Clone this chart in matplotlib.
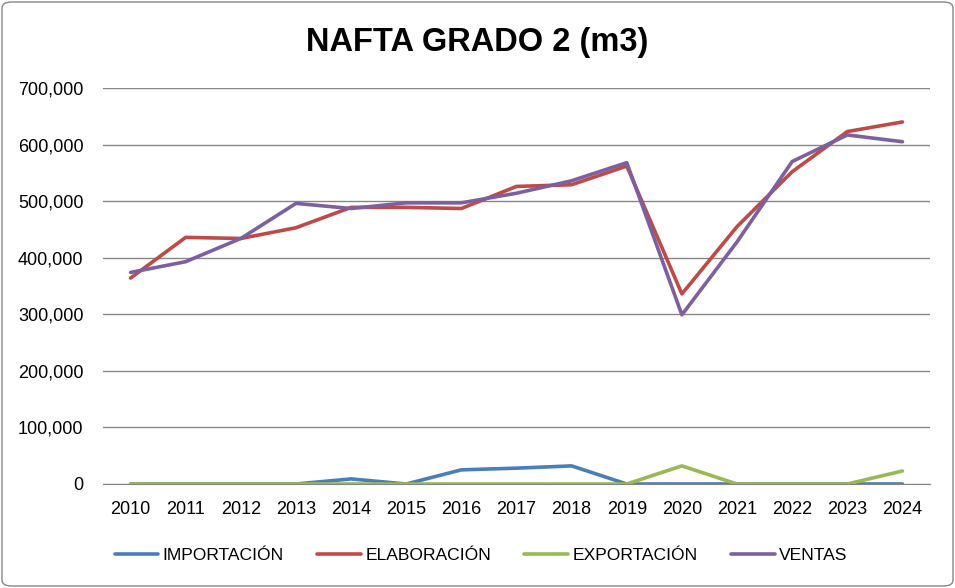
import matplotlib
matplotlib.use("Agg")
import matplotlib.pyplot as plt
from matplotlib.patches import FancyBboxPatch
from matplotlib.ticker import FuncFormatter

years = [2010, 2011, 2012, 2013, 2014, 2015, 2016, 2017, 2018, 2019, 2020, 2021, 2022, 2023, 2024]
importacion = [0, 0, 0, 0, 9000, 0, 25000, 28000, 32000, 0, 0, 0, 0, 0, 0]
elaboracion = [364000, 436000, 434000, 453000, 489000, 489000, 487000, 526000, 529000, 562000, 336000, 455000, 552000, 623000, 640000]
exportacion = [0, 0, 0, 0, 0, 0, 0, 0, 0, 0, 32000, 0, 0, 0, 23000]
ventas = [374000, 393000, 434000, 496000, 487000, 497000, 497000, 514000, 536000, 568000, 299000, 428000, 570000, 617000, 605000]

series_names = ["IMPORTACIÓN", "ELABORACIÓN", "EXPORTACIÓN", "VENTAS"]
colors = ["#4A7EBB", "#BE4B48", "#98B954", "#7D60A0"]

plt.rcParams['font.family'] = ['Liberation Sans', 'DejaVu Sans']

fig = plt.figure(figsize=(9.55, 5.88), dpi=100)
ax = fig.add_axes([103/955, 1-484/588, (930-103)/955, (484-88)/588])

x = list(range(len(years)))
for name, vals, c in zip(series_names, [importacion, elaboracion, exportacion, ventas], colors):
    ax.plot(x, vals, color=c, lw=2.6, label=name, solid_joinstyle='round', solid_capstyle='round')

ax.set_xlim(-0.5, len(years) - 0.5)
ax.set_ylim(0, 700000)
ax.set_yticks(range(0, 700001, 100000))
ax.yaxis.set_major_formatter(FuncFormatter(lambda v, p: f"{int(v):,}"))
ax.set_xticks(x)
ax.set_xticklabels([str(y) for y in years])
ax.grid(axis='y', color='#868686', lw=1)
ax.set_axisbelow(True)
for s in ['top', 'right', 'left']:
    ax.spines[s].set_visible(False)
ax.spines['bottom'].set_color('#868686')
ax.tick_params(axis='both', length=0, labelsize=13, colors='black')
ax.tick_params(axis='x', pad=12)
ax.tick_params(axis='y', pad=14)

fig.text(0.5, 1-43/588, "NAFTA GRADO 2 (m3)", ha='center', va='center', fontsize=23.5, fontweight='bold')

leg = fig.legend(loc='center', bbox_to_anchor=(481/955, 1-555/588), ncol=4, frameon=False,
                 fontsize=12.6, handlelength=2.5, columnspacing=1.9, handletextpad=0.25)

border = FancyBboxPatch((2/955, 2/588), 1-4/955, 1-4/588, boxstyle="round,pad=0,rounding_size=0.01",
                        transform=fig.transFigure, fill=False, edgecolor='#868686', lw=1)
fig.patches.append(border)

fig.savefig("out.png", dpi=100)
